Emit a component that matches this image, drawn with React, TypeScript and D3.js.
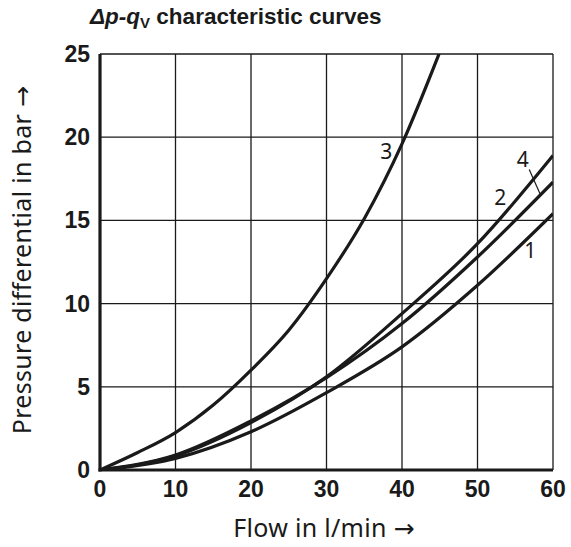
import * as d3 from 'd3';
import React from 'react';

// values
const flowTicks = [0, 10, 20, 30, 40, 50, 60];
const pressureTicks = [0, 5, 10, 15, 20, 25];

const curve3Flow = [0, 5, 10, 15, 20, 25, 30, 35, 40, 44.9];
const curve3Dp = [0, 1.05, 2.25, 3.9, 6.0, 8.4, 11.5, 15.1, 19.6, 25];

const lowFlow = [0, 10, 20, 30, 40, 50, 60];
const curve2Dp = [0, 0.85, 2.85, 5.6, 9.4, 13.6, 18.9];
const curve4Dp = [0, 0.9, 2.95, 5.55, 8.8, 12.8, 17.3];
const curve1Dp = [0, 0.7, 2.3, 4.65, 7.4, 11.1, 15.4];

const curveLabels = [
  { text: '3', q: 37.9, dp: 19.2 },
  { text: '4', q: 56.0, dp: 18.7 },
  { text: '2', q: 53.0, dp: 16.4 },
  { text: '1', q: 57.0, dp: 13.2 },
];
const leader = [
  [56.85, 18.06],
  [58.28, 16.6],
];

const W = 571;
const H = 547;
const margin = { top: 54, right: 18, bottom: 77, left: 100 };

export default function App() {
  const x = d3
    .scaleLinear()
    .domain([0, 60])
    .range([margin.left, W - margin.right]);
  const y = d3
    .scaleLinear()
    .domain([0, 25])
    .range([H - margin.bottom, margin.top]);

  const series = [
    curve3Flow.map((q, i) => [q, curve3Dp[i]]),
    lowFlow.map((q, i) => [q, curve2Dp[i]]),
    lowFlow.map((q, i) => [q, curve4Dp[i]]),
    lowFlow.map((q, i) => [q, curve1Dp[i]]),
  ];

  const line = d3
    .line<number[]>()
    .x(d => x(d[0]))
    .y(d => y(d[1]))
    .curve(d3.curveMonotoneX);

  const x0 = x(0);
  const x1 = x(60);
  const y0 = y(0);
  const y1 = y(25);
  const ink = '#1a1a1a';
  const tickFont = '"Liberation Sans", Arial, sans-serif';
  const textFont = '"Noto Sans", "Open Sans", sans-serif';
  const arrowFont = '"DejaVu Sans", sans-serif';

  return (
    <svg
      width={W}
      height={H}
      style={{ position: 'absolute', left: 0, top: 0, background: '#fff' }}
    >
      <text
        x={90}
        y={24}
        fontFamily='"Liberation Sans", Arial, sans-serif'
        fontWeight={700}
        fontSize={22.5}
        fill={ink}
      >
        <tspan fontStyle="italic">Δp-q</tspan>
        <tspan fontSize={15} dy={4}>V</tspan>
        <tspan dy={-4}> characteristic curves</tspan>
      </text>

      {/* grid */}
      {flowTicks.slice(1).map(t => (
        <line key={'gx' + t} x1={x(t)} x2={x(t)} y1={y0} y2={y1} stroke={ink} strokeWidth={1.3} />
      ))}
      {pressureTicks.slice(1).map(t => (
        <line key={'gy' + t} x1={x0} x2={x1} y1={y(t)} y2={y(t)} stroke={ink} strokeWidth={1.3} />
      ))}

      {/* curves */}
      <defs>
        <clipPath id="plot">
          <rect x={x0} y={y1} width={x1 - x0} height={y0 - y1} />
        </clipPath>
      </defs>
      <g clipPath="url(#plot)">
        {series.map((s, i) => (
          <path key={i} d={line(s) ?? ''} fill="none" stroke={ink} strokeWidth={3.2} />
        ))}
      </g>

      {/* axes */}
      <line x1={x0} x2={x0} y1={y1} y2={y0 + 1.5} stroke={ink} strokeWidth={3.2} />
      <line x1={x0 - 1.5} x2={x1} y1={y0} y2={y0} stroke={ink} strokeWidth={3.2} />

      {/* curve labels */}
      {curveLabels.map(l => (
        <text
          key={l.text}
          x={x(l.q)}
          y={y(l.dp)}
          textAnchor="middle"
          dominantBaseline="central"
          fontFamily={textFont}
          fontWeight={400}
          fontSize={21}
          fill={ink}
        >
          {l.text}
        </text>
      ))}
      <line
        x1={x(leader[0][0])}
        y1={y(leader[0][1])}
        x2={x(leader[1][0])}
        y2={y(leader[1][1])}
        stroke={ink}
        strokeWidth={1.2}
      />

      {/* tick labels */}
      {pressureTicks.map(t => (
        <text
          key={'ty' + t}
          x={x0 - 10}
          y={y(t)}
          textAnchor="end"
          dominantBaseline="central"
          fontFamily={tickFont}
          fontWeight={700}
          fontSize={23}
          fill={ink}
        >
          {t}
        </text>
      ))}
      {flowTicks.map(t => (
        <text
          key={'tx' + t}
          x={x(t)}
          y={y0 + 27}
          textAnchor="middle"
          fontFamily={tickFont}
          fontWeight={700}
          fontSize={23}
          fill={ink}
        >
          {t}
        </text>
      ))}

      {/* axis titles */}
      <text
        x={324}
        y={537}
        textAnchor="middle"
        fontFamily={textFont}
        fontSize={25}
        letterSpacing={0.3}
        fill={ink}
      >
        Flow in l/min <tspan fontFamily={arrowFont}>→</tspan>
      </text>
      <text
        transform={`translate(31,260) rotate(-90)`}
        textAnchor="middle"
        fontFamily={textFont}
        fontSize={25}
        letterSpacing={0.3}
        fill={ink}
      >
        Pressure differential in bar <tspan fontFamily={arrowFont}>→</tspan>
      </text>
    </svg>
  );
}
